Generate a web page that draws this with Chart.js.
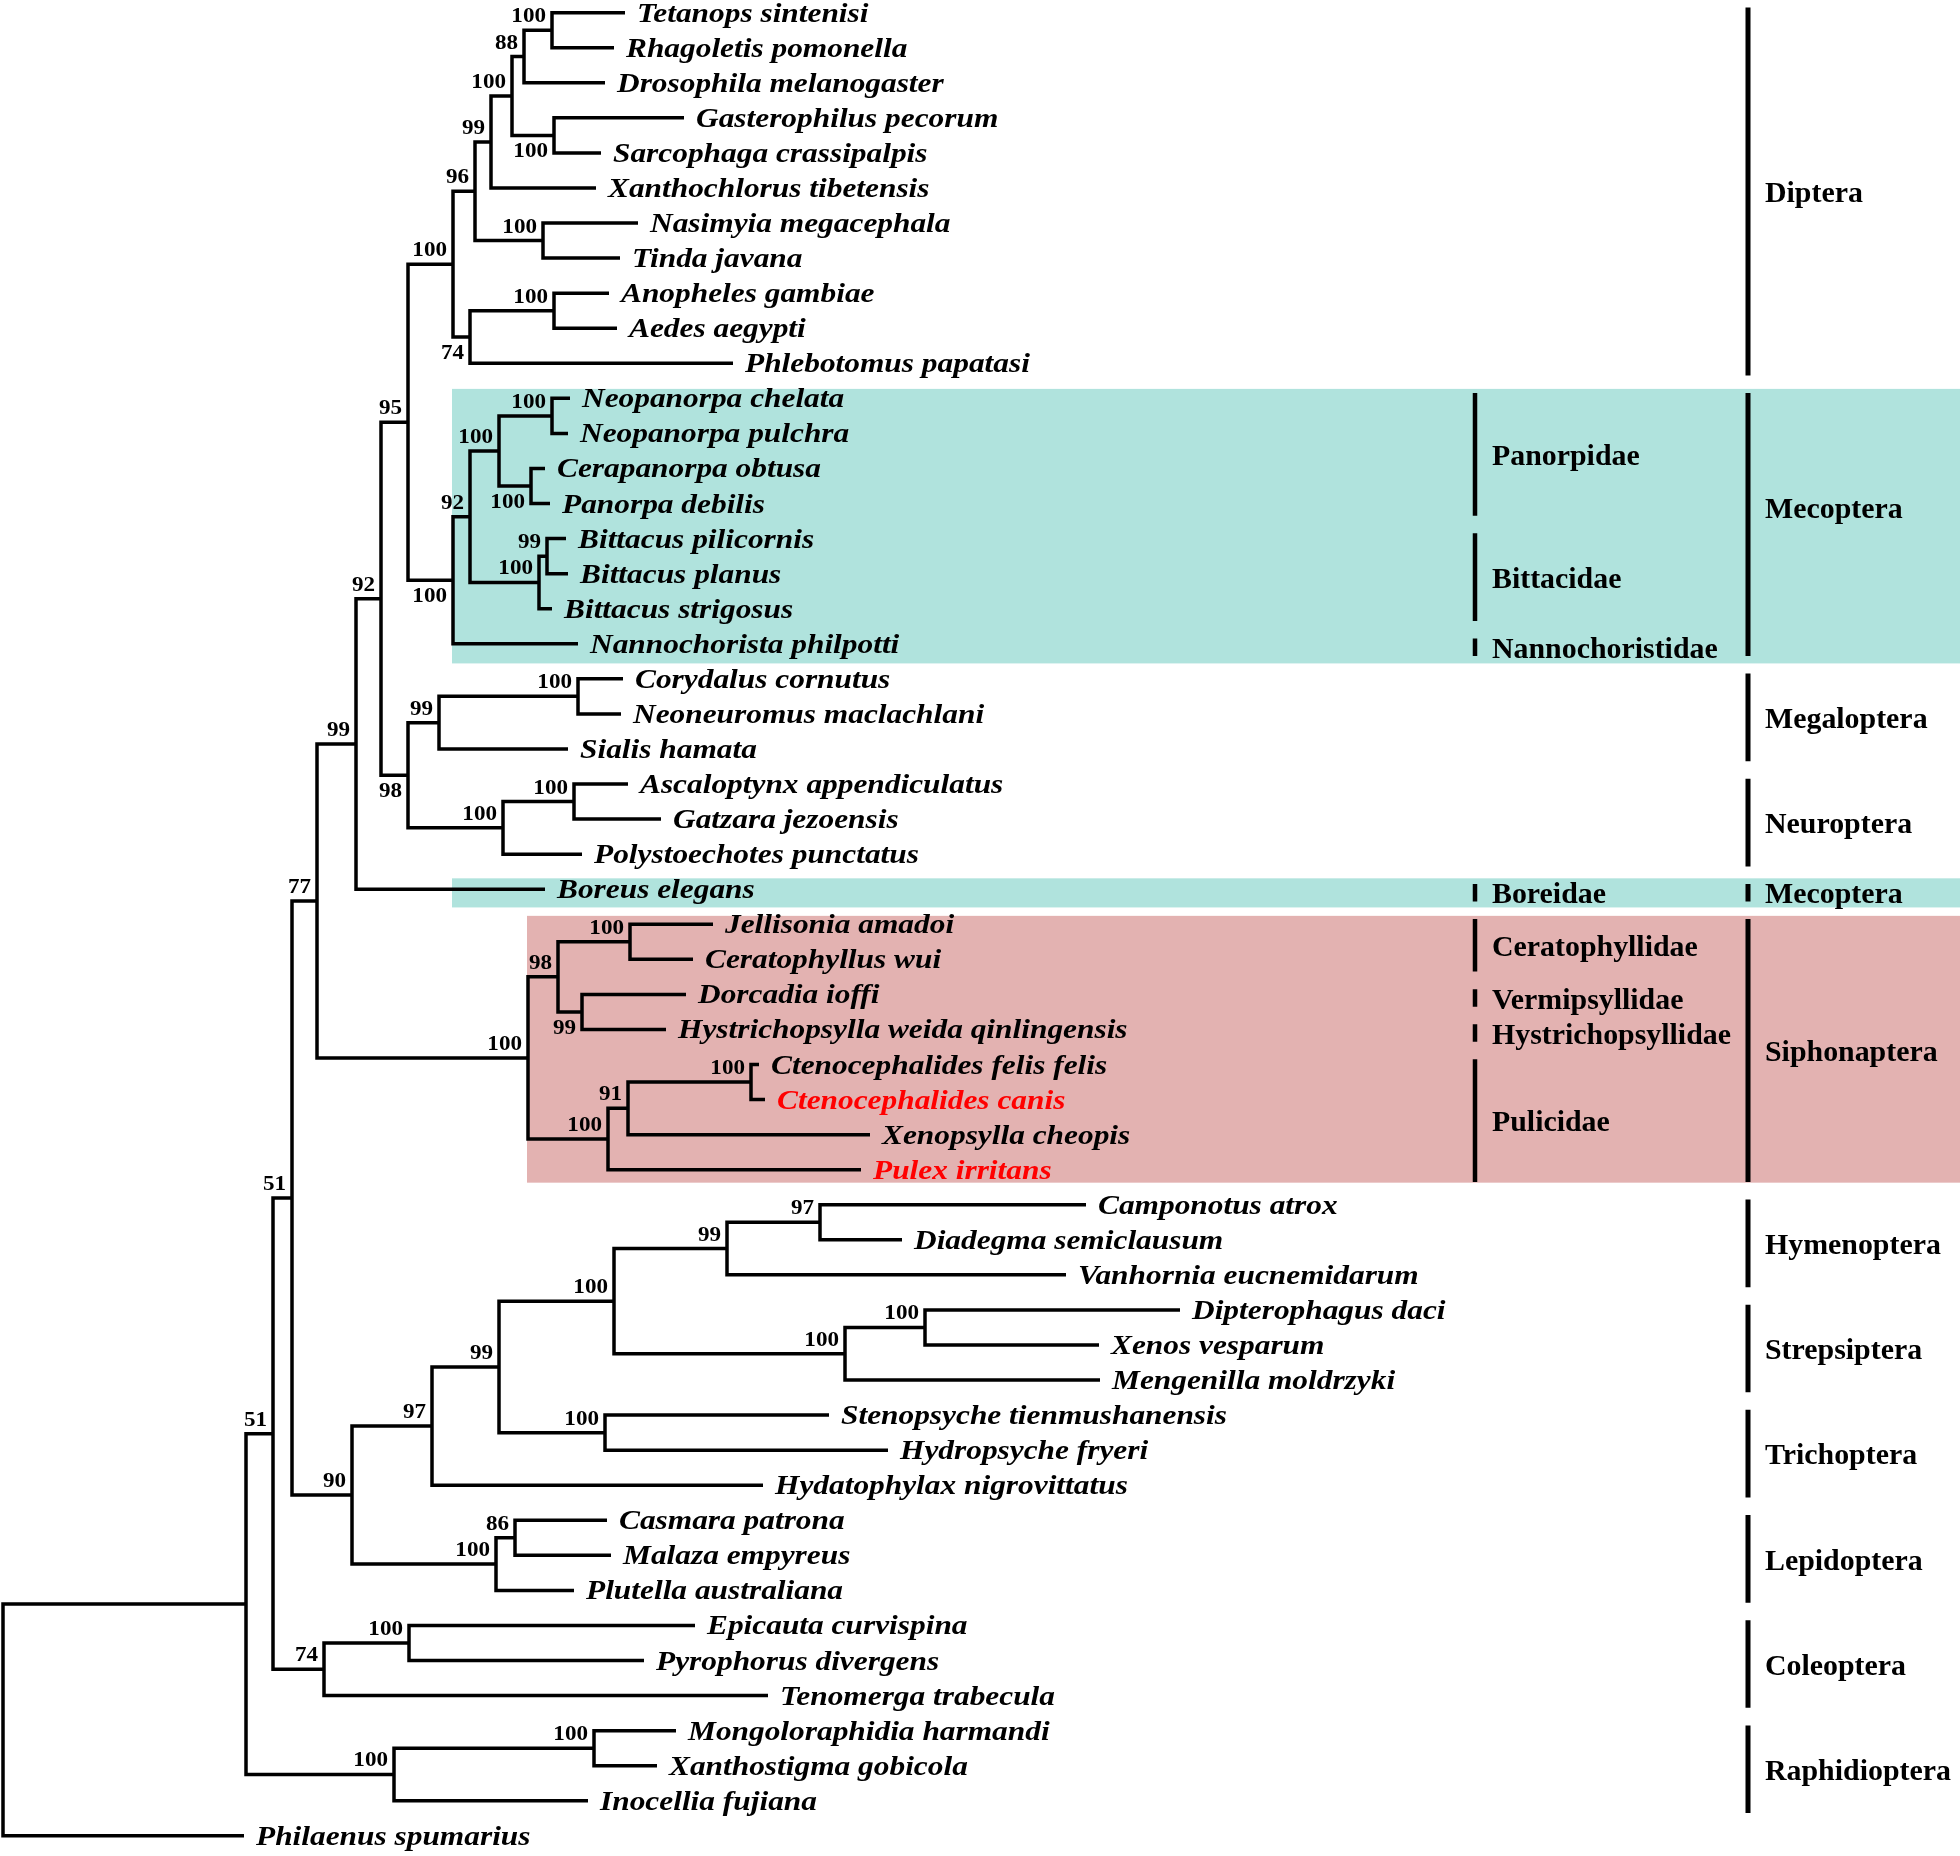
<!DOCTYPE html>
<html>
<head>
<meta charset="utf-8">
<script src="https://cdn.jsdelivr.net/npm/chart.js@4.4.0/dist/chart.umd.min.js"></script>
<style>
  html, body { margin: 0; padding: 0; background: #fff; }
  canvas { display: block; }
</style>
</head>
<body>
<canvas id="tree" width="1960" height="1856"></canvas>
<script>
// tips, top to bottom (y = row index)
const taxa = [
  'Tetanops sintenisi', 'Rhagoletis pomonella', 'Drosophila melanogaster', 'Gasterophilus pecorum',
  'Sarcophaga crassipalpis', 'Xanthochlorus tibetensis', 'Nasimyia megacephala', 'Tinda javana',
  'Anopheles gambiae', 'Aedes aegypti', 'Phlebotomus papatasi', 'Neopanorpa chelata',
  'Neopanorpa pulchra', 'Cerapanorpa obtusa', 'Panorpa debilis', 'Bittacus pilicornis',
  'Bittacus planus', 'Bittacus strigosus', 'Nannochorista philpotti', 'Corydalus cornutus',
  'Neoneuromus maclachlani', 'Sialis hamata', 'Ascaloptynx appendiculatus', 'Gatzara jezoensis',
  'Polystoechotes punctatus', 'Boreus elegans', 'Jellisonia amadoi', 'Ceratophyllus wui',
  'Dorcadia ioffi', 'Hystrichopsylla weida qinlingensis', 'Ctenocephalides felis felis', 'Ctenocephalides canis',
  'Xenopsylla cheopis', 'Pulex irritans', 'Camponotus atrox', 'Diadegma semiclausum',
  'Vanhornia eucnemidarum', 'Dipterophagus daci', 'Xenos vesparum', 'Mengenilla moldrzyki',
  'Stenopsyche tienmushanensis', 'Hydropsyche fryeri', 'Hydatophylax nigrovittatus', 'Casmara patrona',
  'Malaza empyreus', 'Plutella australiana', 'Epicauta curvispina', 'Pyrophorus divergens',
  'Tenomerga trabecula', 'Mongoloraphidia harmandi', 'Xanthostigma gobicola', 'Inocellia fujiana',
  'Philaenus spumarius'
];
// depth where each tip branch ends
const tipX = [
  625, 614, 605, 684, 601, 596, 638, 620, 609, 617, 733,
  570, 568, 545, 550, 566, 568, 552, 578,
  623, 621, 568, 628, 661, 582, 545,
  713, 693, 686, 666, 759, 765, 870, 861,
  1086, 902, 1066, 1180, 1099, 1100, 829, 888, 763,
  607, 611, 574, 695, 644, 768, 676, 657, 588, 244
];
const highlighted = [31, 33];

// internal nodes (children listed before parents)
const nodeKids = [
  ['t0','t1'], ['n0','t2'], ['t3','t4'], ['n1','n2'], ['n3','t5'], ['t6','t7'], ['n4','n5'],
  ['t8','t9'], ['n7','t10'], ['n6','n8'],
  ['t11','t12'], ['t13','t14'], ['n10','n11'], ['t15','t16'], ['n13','t17'], ['n12','n14'], ['n15','t18'],
  ['n9','n16'],
  ['t19','t20'], ['n18','t21'], ['t22','t23'], ['n20','t24'], ['n19','n21'],
  ['n17','n22'], ['n23','t25'],
  ['t26','t27'], ['t28','t29'], ['n25','n26'], ['t30','t31'], ['n28','t32'], ['n29','t33'], ['n27','n30'],
  ['n24','n31'],
  ['t34','t35'], ['n33','t36'], ['t37','t38'], ['n35','t39'], ['n34','n36'], ['t40','t41'], ['n37','n38'],
  ['n39','t42'], ['t43','t44'], ['n41','t45'], ['n40','n42'],
  ['n32','n43'], ['t46','t47'], ['n45','t48'], ['n44','n46'],
  ['t49','t50'], ['n48','t51'], ['n47','n49'], ['n50','t52']
];
const nodeX = [
  552, 524, 554, 512, 491, 543, 475, 554, 470, 453,
  552, 531, 499, 547, 539, 470, 453, 408,
  578, 439, 574, 503, 408, 381, 356,
  630, 582, 558, 751, 628, 608, 528, 317,
  820, 727, 925, 845, 614, 605, 499, 432, 515, 496, 352,
  292, 409, 324, 273, 594, 394, 246, 3
];
const support = [
  100, 88, 100, 100, 99, 100, 96, 100, 74, 100,
  100, 100, 100, 99, 100, 92, 100, 95,
  100, 99, 100, 100, 98, 92, 99,
  100, 99, 98, 100, 91, 100, 100, 77,
  97, 99, 100, 100, 100, 100, 99, 97, 86, 100, 90,
  51, 100, 74, 51, 100, 100, null, null
];
// nodes whose support value sits under the branch
const supportBelow = [2, 8, 11, 16, 22, 26];

const orderNames = ['Diptera', 'Mecoptera', 'Megaloptera', 'Neuroptera', 'Mecoptera', 'Siphonaptera',
  'Hymenoptera', 'Strepsiptera', 'Trichoptera', 'Lepidoptera', 'Coleoptera', 'Raphidioptera'];
const orderFirst = [0, 11, 19, 22, 25, 26, 34, 37, 40, 43, 46, 49];
const orderLast = [10, 18, 21, 24, 25, 33, 36, 39, 42, 45, 48, 51];
const orderLabelShift = [0, -0.5, 0, 0, 0, 0, 0, 0, 0, 0, 0, 0];

const familyNames = ['Panorpidae', 'Bittacidae', 'Nannochoristidae', 'Boreidae',
  'Ceratophyllidae', 'Vermipsyllidae', 'Hystrichopsyllidae', 'Pulicidae'];
const familyFirst = [11, 15, 18, 25, 26, 28, 29, 30];
const familyLast = [14, 17, 18, 25, 27, 28, 29, 33];

// shaded boxes
const bandTop = [10.73, 24.69, 25.76];
const bandBottom = [18.56, 25.52, 33.37];
const bandLeft = [452, 452, 527];
const bandColor = ['#b0e3dd', '#b0e3dd', '#e3b2b1'];

const ORDER_BAR_X = 1748, FAMILY_BAR_X = 1475;
const TAXON_FONT = 'italic bold 28px "Liberation Serif", serif';
const SUPPORT_FONT = 'bold 21px "Liberation Serif", serif';
const GROUP_FONT = 'bold 29px "Liberation Serif", serif';

const ref = k => +k.slice(1);
const nodeY = [];
const kidY = k => k[0] === 't' ? ref(k) : nodeY[ref(k)];
const kidX = k => k[0] === 't' ? tipX[ref(k)] : nodeX[ref(k)];
nodeKids.forEach((kids, j) => {
  nodeY[j] = (kidY(kids[0]) + kidY(kids[kids.length - 1])) / 2;
});

const lineStyle = {
  showLine: true, borderColor: '#000', borderWidth: 3.5, pointRadius: 0,
  tension: 0, fill: false, borderJoinStyle: 'miter', borderCapStyle: 'butt'
};

const datasets = [];
nodeKids.forEach((kids, j) => {
  const a = kids[0], b = kids[kids.length - 1];
  datasets.push({
    ...lineStyle,
    data: [
      { x: kidX(a), y: kidY(a) }, { x: nodeX[j], y: kidY(a) },
      { x: nodeX[j], y: kidY(b) }, { x: kidX(b), y: kidY(b) }
    ]
  });
});
orderNames.forEach((n, i) => {
  datasets.push({ ...lineStyle, borderWidth: 5,
    data: [{ x: ORDER_BAR_X, y: orderFirst[i] - 0.15 }, { x: ORDER_BAR_X, y: orderLast[i] + 0.35 }] });
});
familyNames.forEach((n, i) => {
  datasets.push({ ...lineStyle, borderWidth: 4.5,
    data: [{ x: FAMILY_BAR_X, y: familyFirst[i] - 0.15 }, { x: FAMILY_BAR_X, y: familyLast[i] + 0.35 }] });
});

function drawText(ctx, txt, x, y, font, color, align, sx) {
  ctx.save();
  ctx.font = font;
  ctx.fillStyle = color;
  ctx.textAlign = align;
  ctx.textBaseline = 'alphabetic';
  ctx.translate(x, y);
  ctx.scale(sx, 1);
  ctx.fillText(txt, 0, 0);
  ctx.restore();
}

const treeDecor = {
  id: 'treeDecor',
  beforeDatasetsDraw(chart) {
    const { ctx, scales: { x, y }, chartArea } = chart;
    ctx.save();
    bandTop.forEach((t, i) => {
      const left = x.getPixelForValue(bandLeft[i]);
      const top = y.getPixelForValue(t);
      ctx.fillStyle = bandColor[i];
      ctx.fillRect(left, top, chartArea.right - left, y.getPixelForValue(bandBottom[i]) - top);
    });
    ctx.restore();
  },
  afterDatasetsDraw(chart) {
    const { ctx, scales: { x, y } } = chart;
    taxa.forEach((name, i) => {
      const color = highlighted.includes(i) ? '#ff0000' : '#000';
      drawText(ctx, name, x.getPixelForValue(tipX[i]) + 12, y.getPixelForValue(i) + 9, TAXON_FONT, color, 'left', 1.12);
    });
    support.forEach((s, j) => {
      if (s == null) return;
      const py = y.getPixelForValue(nodeY[j]);
      const below = supportBelow.includes(j);
      drawText(ctx, String(s), x.getPixelForValue(nodeX[j]) - 6,
        below ? py + 22 : py - 8, SUPPORT_FONT, '#000', 'right', 1.1);
    });
    orderNames.forEach((n, i) => {
      const py = y.getPixelForValue((orderFirst[i] + orderLast[i]) / 2 + 0.12 + orderLabelShift[i]);
      drawText(ctx, n, x.getPixelForValue(ORDER_BAR_X) + 17, py + 10, GROUP_FONT, '#000', 'left', 1.03);
    });
    familyNames.forEach((n, i) => {
      const py = y.getPixelForValue((familyFirst[i] + familyLast[i]) / 2 + 0.12);
      drawText(ctx, n, x.getPixelForValue(FAMILY_BAR_X) + 17, py + 10, GROUP_FONT, '#000', 'left', 1.03);
    });
  }
};

new Chart(document.getElementById('tree'), {
  type: 'scatter',
  data: { datasets },
  options: {
    responsive: false,
    animation: false,
    devicePixelRatio: 1,
    layout: { padding: 0 },
    plugins: { legend: { display: false }, tooltip: { enabled: false } },
    scales: {
      x: { type: 'linear', min: 0, max: 1960, display: false },
      y: { type: 'linear', min: -0.362, max: 52.575, reverse: true, display: false }
    }
  },
  plugins: [treeDecor]
});
</script>
</body>
</html>
